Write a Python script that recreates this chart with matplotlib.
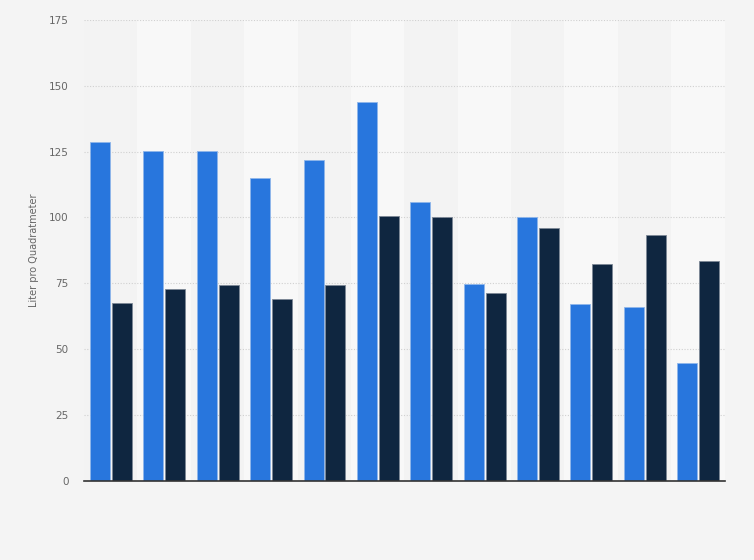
import numpy as np
import matplotlib.pyplot as plt

# values (12 groups, two series)
series_a = [128.8, 125.1, 125.1, 114.8, 121.6, 143.6, 106.0, 74.6, 100.0, 67.3, 66.2, 44.7]
series_b = [67.5, 72.9, 74.2, 69.2, 74.2, 100.4, 100.1, 71.2, 95.8, 82.2, 93.2, 83.5]
y_ticks = [0, 25, 50, 75, 100, 125, 150, 175]
y_label = "Liter pro Quadratmeter"

BLUE = "#2876dd"
NAVY = "#0f2640"
BG = "#f4f4f4"

fig = plt.figure(figsize=(7.54, 5.6), dpi=100, facecolor=BG)
ax = fig.add_axes([0.1114, 0.141, 0.8495, 0.8238])
ax.set_facecolor("#f3f3f3")

n = len(series_a)
x = np.arange(n)

# alternating column bands
for i in range(n):
    if i % 2 == 1:
        ax.axvspan(i - 0.5, i + 0.5, color="#f8f8f8", zorder=0, lw=0)

w = 0.375
ax.bar(x - 0.2, series_a, width=w, color=BLUE, edgecolor="#8fb6ea",
       linewidth=0.6, zorder=3)
ax.bar(x + 0.21, series_b, width=w, color=NAVY, edgecolor="#7d8896",
       linewidth=0.6, zorder=3)

ax.set_xlim(-0.5, n - 0.5)
ax.set_ylim(0, 175)
ax.set_yticks(y_ticks)
ax.set_xticks([])
ax.yaxis.grid(True, linestyle=(0, (1, 1.5)), color="#d0d0d0", linewidth=0.8, zorder=1)
ax.tick_params(axis="y", length=0, pad=11, labelsize=7.5, labelcolor="#666666")

for s in ["top", "right", "left"]:
    ax.spines[s].set_visible(False)
ax.spines["bottom"].set_color("#333333")
ax.spines["bottom"].set_linewidth(1.2)
ax.spines["bottom"].set_zorder(4)

ax.set_ylabel(y_label, fontsize=7, color="#666666", labelpad=7)

fig.savefig("out.png", dpi=100, facecolor=BG)
